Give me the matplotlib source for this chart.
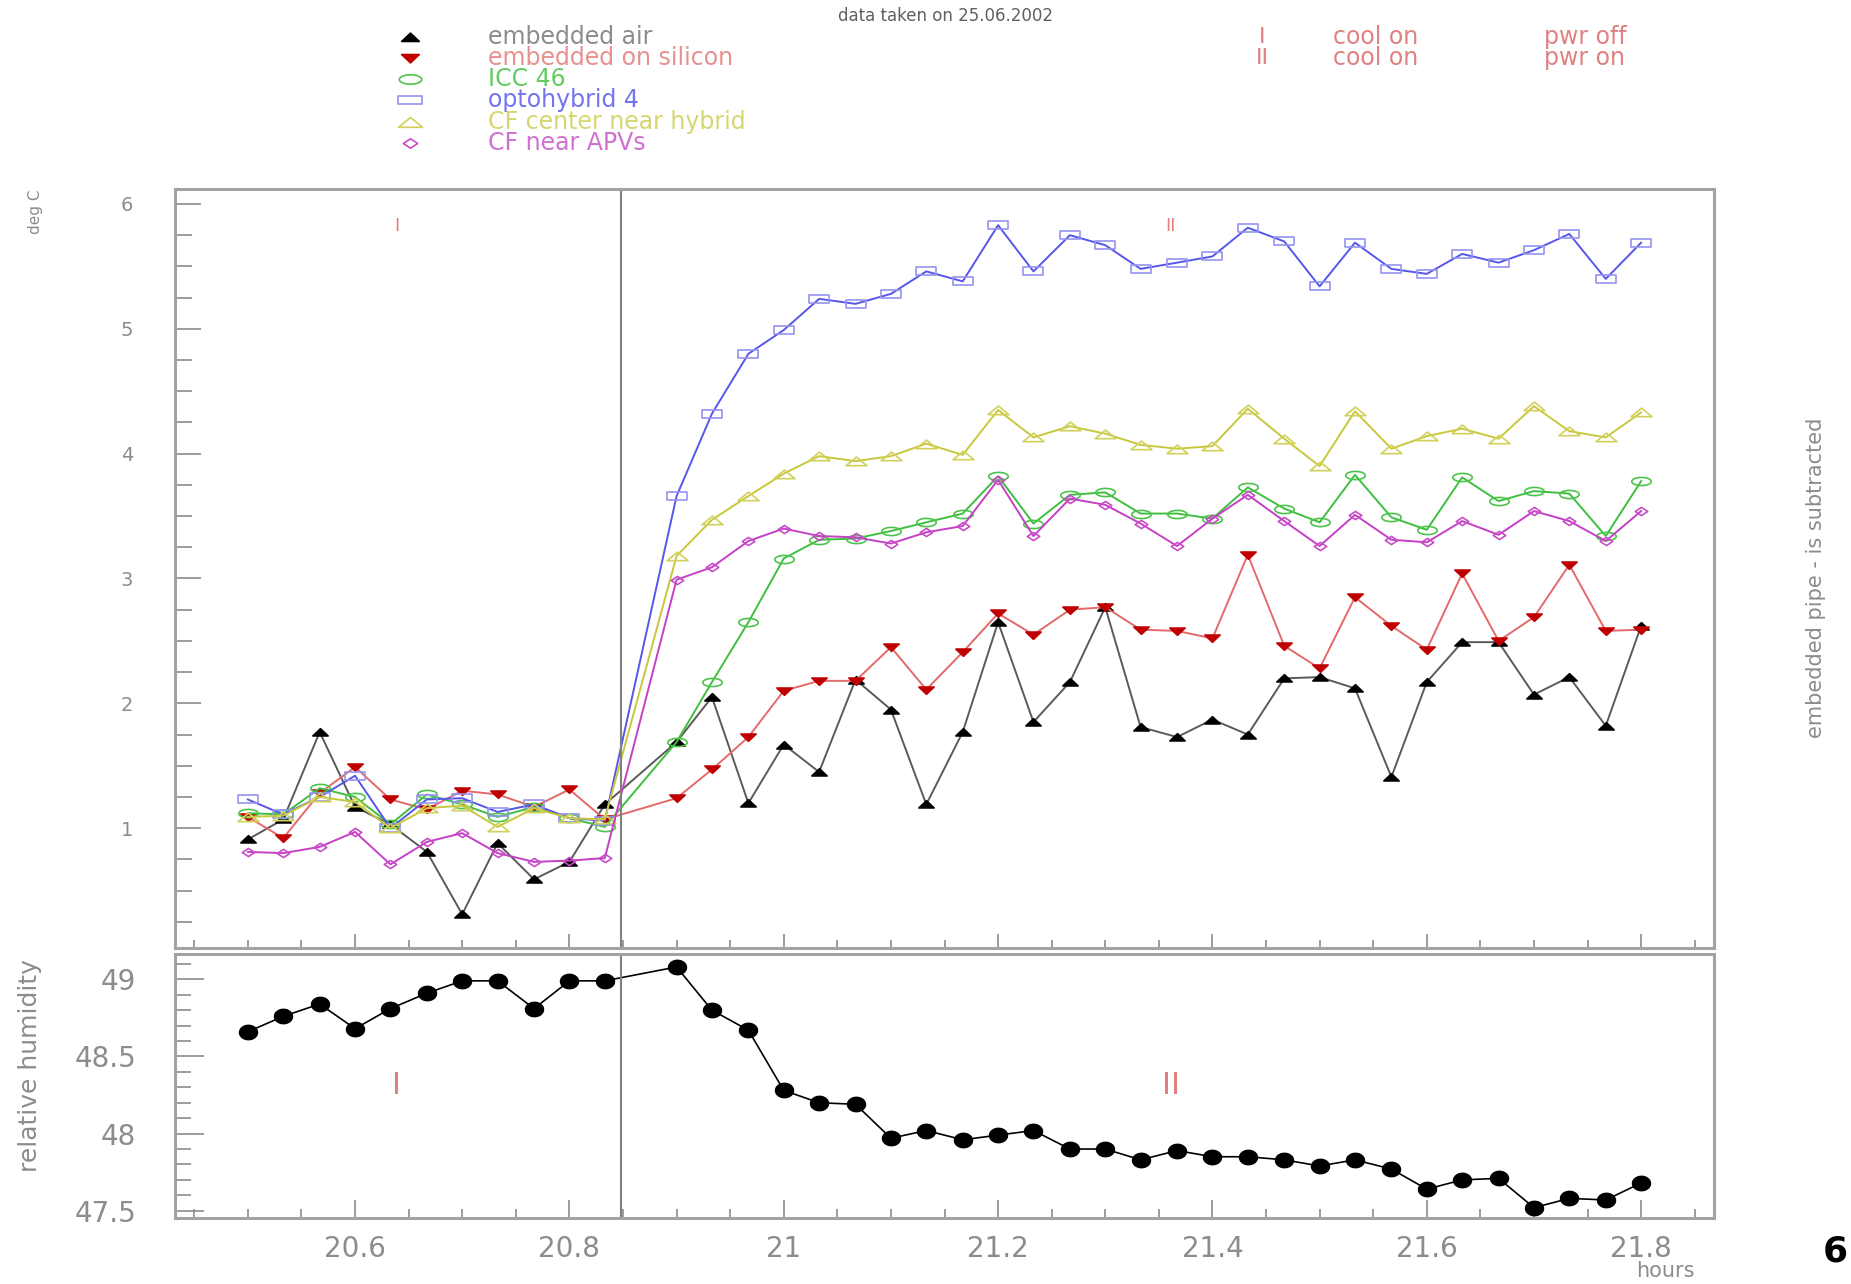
import numpy as np
import matplotlib
matplotlib.use('Agg')
import matplotlib.pyplot as plt
from matplotlib.path import Path
from matplotlib.lines import Line2D
from matplotlib.ticker import MultipleLocator, FuncFormatter

# -----------------------------------------------------------------------------
# data (hours of day, 25.06.2002)
# -----------------------------------------------------------------------------
hours = [20.5, 20.533, 20.567, 20.6, 20.633, 20.667, 20.7, 20.733, 20.767, 20.8,
         20.833, 20.9, 20.933, 20.967, 21.0, 21.033, 21.067, 21.1, 21.133, 21.167,
         21.2, 21.233, 21.267, 21.3, 21.333, 21.367, 21.4, 21.433, 21.467, 21.5,
         21.533, 21.567, 21.6, 21.633, 21.667, 21.7, 21.733, 21.767, 21.8]

embedded_air = [0.91, 1.07, 1.77, 1.17, 1.03, 0.81, 0.31, 0.88, 0.59, 0.73, 1.19,
                1.69, 2.05, 1.20, 1.67, 1.45, 2.19, 1.95, 1.19, 1.77, 2.65, 1.85,
                2.17, 2.77, 1.81, 1.73, 1.87, 1.75, 2.20, 2.21, 2.12, 1.41, 2.17,
                2.49, 2.49, 2.07, 2.21, 1.82, 2.62]
embedded_silicon = [1.09, 0.92, 1.28, 1.49, 1.23, 1.15, 1.30, 1.27, 1.17, 1.31, 1.07,
                    1.24, 1.47, 1.73, 2.10, 2.18, 2.18, 2.45, 2.11, 2.41, 2.72, 2.55,
                    2.75, 2.77, 2.59, 2.58, 2.52, 3.19, 2.46, 2.28, 2.85, 2.62, 2.43,
                    3.04, 2.50, 2.69, 3.11, 2.58, 2.59]
icc46 = [1.12, 1.11, 1.32, 1.25, 1.03, 1.27, 1.19, 1.09, 1.17, 1.08, 1.01,
         1.69, 2.17, 2.65, 3.16, 3.31, 3.32, 3.38, 3.45, 3.52, 3.82, 3.44,
         3.67, 3.69, 3.52, 3.52, 3.48, 3.73, 3.56, 3.45, 3.83, 3.49, 3.39,
         3.81, 3.62, 3.70, 3.68, 3.34, 3.78]
optohybrid4 = [1.23, 1.11, 1.25, 1.42, 1.00, 1.23, 1.24, 1.13, 1.19, 1.08, 1.06,
               3.66, 4.32, 4.80, 4.99, 5.24, 5.20, 5.28, 5.46, 5.38, 5.83, 5.46,
               5.75, 5.67, 5.48, 5.53, 5.58, 5.81, 5.70, 5.34, 5.69, 5.48, 5.44,
               5.60, 5.53, 5.63, 5.76, 5.40, 5.69]
cf_center = [1.09, 1.10, 1.25, 1.21, 1.00, 1.16, 1.18, 1.01, 1.16, 1.08, 1.07,
             3.18, 3.47, 3.66, 3.84, 3.98, 3.94, 3.98, 4.08, 3.99, 4.35, 4.13,
             4.22, 4.16, 4.07, 4.04, 4.06, 4.36, 4.12, 3.90, 4.34, 4.04, 4.14,
             4.20, 4.12, 4.38, 4.18, 4.13, 4.33]
cf_apvs = [0.81, 0.80, 0.85, 0.97, 0.71, 0.89, 0.96, 0.80, 0.73, 0.74, 0.76,
           2.99, 3.09, 3.30, 3.40, 3.34, 3.33, 3.28, 3.37, 3.42, 3.79, 3.34,
           3.64, 3.59, 3.44, 3.26, 3.48, 3.67, 3.46, 3.26, 3.51, 3.31, 3.29,
           3.46, 3.35, 3.54, 3.46, 3.30, 3.54]
humidity = [48.66, 48.76, 48.84, 48.68, 48.81, 48.91, 48.99, 48.99, 48.81, 48.99,
            48.99, 49.08, 48.80, 48.67, 48.28, 48.20, 48.19, 47.97, 48.02, 47.96,
            47.99, 48.02, 47.90, 47.90, 47.83, 47.89, 47.85, 47.85, 47.83, 47.79,
            47.83, 47.77, 47.64, 47.70, 47.71, 47.52, 47.58, 47.57, 47.68]

labels = ['embedded air', 'embedded on silicon', 'ICC 46', 'optohybrid 4',
          'CF center near hybrid', 'CF near APVs']

POWER_ON = 20.848   # time the hybrids were switched on
W, H = 1851, 1284
GRAY = '#8c8c8c'


# flattened marker shapes (the original print is stretched sideways)
def shape(pts):
    pts = list(pts) + [pts[0]]
    codes = [Path.MOVETO] + [Path.LINETO] * (len(pts) - 2) + [Path.CLOSEPOLY]
    return Path(pts, codes)

t = np.linspace(0, 2 * np.pi, 41)[:-1]
TRI_UP = shape([(-1, -0.45), (1, -0.45), (0, 0.5)])
TRI_DN = shape([(-1, 0.45), (1, 0.45), (0, -0.5)])
SQUARE = shape([(-1, -0.35), (1, -0.35), (1, 0.35), (-1, 0.35)])
OVAL = shape(list(zip(np.cos(t), 0.42 * np.sin(t))))
OPEN_TRI = shape([(-1, -0.4), (1, -0.4), (0, 0.42)])
DIAMOND = shape([(0, -0.65), (1, 0), (0, 0.65), (-1, 0)])
DOT = shape(list(zip(np.cos(t), 0.8 * np.sin(t))))

# (values, line colour, marker, size, face, edge, text colour)
series = [
    (embedded_air, '#5a5a5a', TRI_UP, 11, 'black', 'black', '#8c8c8c'),
    (embedded_silicon, '#e36a6a', TRI_DN, 11, '#c00000', '#c00000', '#e89090'),
    (icc46, '#3fbf3f', OVAL, 14, 'none', '#4cc44c', '#62cc62'),
    (optohybrid4, '#5656e8', SQUARE, 15, 'none', '#9494f2', '#7474f0'),
    (cf_center, '#c8c83c', OPEN_TRI, 15, 'none', '#d0d05a', '#d6d670'),
    (cf_apvs, '#c540c5', DIAMOND, 9, 'none', '#c84cc8', '#d070d0'),
]

plt.rcParams['font.family'] = 'DejaVu Sans'
fig = plt.figure(figsize=(W / 100, H / 100), dpi=100)


def fx(x):
    return x / W


def fy(y):
    return 1 - y / H


def style_frame(a):
    for s in a.spines.values():
        s.set_color('#a3a3a3')
        s.set_linewidth(2.2)


fmt = FuncFormatter(lambda v, p: f'{v:g}')

# ---------------------------------------------------------------- temperatures
ax = fig.add_axes([fx(175), fy(948), fx(1539), 759 / H])
for vals, lc, mk, ms, mfc, mec, _ in series:
    ax.plot(hours, vals, color=lc, lw=1.4, marker=mk, ms=ms,
            mfc=mfc, mec=mec, mew=1.2)
ax.axvline(POWER_ON, color='#808080', lw=1.5)
ax.set_xlim(20.432, 21.868)
ax.set_ylim(0.04, 6.12)
ax.xaxis.set_major_locator(MultipleLocator(0.2))
ax.xaxis.set_minor_locator(MultipleLocator(0.05))
ax.yaxis.set_major_locator(MultipleLocator(1))
ax.yaxis.set_minor_locator(MultipleLocator(0.25))
ax.yaxis.set_major_formatter(fmt)
ax.tick_params(axis='both', which='both', direction='in', colors=GRAY, width=1.2)
ax.tick_params(axis='x', which='major', length=10, labelbottom=False)
ax.tick_params(axis='x', which='minor', length=6)
ax.tick_params(axis='y', which='major', length=19, pad=30, labelsize=14)
ax.tick_params(axis='y', which='minor', length=12)
style_frame(ax)
ax.text(20.639, 5.82, 'I', color='#e08080', fontsize=13, ha='center', va='center')
ax.text(21.361, 5.82, 'II', color='#e08080', fontsize=13, ha='center', va='center')

# ------------------------------------------------------------------- humidity
bx = fig.add_axes([fx(175), fy(1218), fx(1539), 264 / H])
bx.plot(hours, humidity, color='black', lw=1.2, marker=DOT, ms=13,
        mfc='black', mec='black')
bx.axvline(POWER_ON, color='#808080', lw=1.5)
bx.set_xlim(20.432, 21.868)
bx.set_ylim(47.453, 49.164)
bx.xaxis.set_major_locator(MultipleLocator(0.2))
bx.xaxis.set_minor_locator(MultipleLocator(0.05))
bx.yaxis.set_major_locator(MultipleLocator(0.5))
bx.yaxis.set_minor_locator(MultipleLocator(0.1))
bx.xaxis.set_major_formatter(fmt)
bx.yaxis.set_major_formatter(fmt)
bx.tick_params(axis='both', which='both', direction='in', colors=GRAY,
               width=1.2, labelsize=20)
bx.tick_params(axis='x', which='major', length=13, pad=12)
bx.tick_params(axis='x', which='minor', length=6.5)
bx.tick_params(axis='y', which='major', length=21, pad=28)
bx.tick_params(axis='y', which='minor', length=11.5)
style_frame(bx)
bx.text(20.639, 48.31, 'I', color='#e08080', fontsize=22, ha='center', va='center')
bx.text(21.361, 48.31, 'II', color='#e08080', fontsize=22, ha='center', va='center')

# ---------------------------------------------------------- legend and labels
fig.text(fx(945), fy(16), 'data taken on 25.06.2002', fontsize=12,
         color='#606060', ha='center', va='center')
rows = [37, 58, 79, 100, 122, 143]
for (vals, lc, mk, ms, mfc, mec, tc), lab, ry in zip(series, labels, rows):
    fig.add_artist(Line2D([fx(410)], [fy(ry)], transform=fig.transFigure,
                          ls='none', marker=mk, ms=ms * 1.15, mfc=mfc, mec=mec, mew=1.2))
    fig.text(fx(488), fy(ry), lab, fontsize=17, color=tc, ha='left', va='center')

for ry, tag, pwr in [(37, 'I', 'pwr off'), (58, 'II', 'pwr on')]:
    fig.text(fx(1262), fy(ry), tag, fontsize=16, color='#e08080', ha='center', va='center')
    fig.text(fx(1333), fy(ry), 'cool on', fontsize=17, color='#e08080', va='center')
    fig.text(fx(1544), fy(ry), pwr, fontsize=17, color='#e08080', va='center')

fig.text(fx(35), fy(212), 'deg C', rotation=90, fontsize=11, color=GRAY,
         ha='center', va='center')
fig.text(fx(30), fy(1066), 'relative humidity', rotation=90, fontsize=18,
         color=GRAY, ha='center', va='center')
fig.text(fx(1816), fy(578), 'embedded pipe - is subtracted', rotation=90,
         fontsize=15, color=GRAY, ha='center', va='center')
# these two sit right at the page edge in the scan; kept just inside here
fig.text(fx(1665), fy(1281), 'hours', fontsize=15, color=GRAY, ha='center', va='bottom')
fig.text(fx(1848), fy(1252), '6', fontsize=26, fontweight='bold', color='black',
         ha='right', va='center')

fig.savefig('out.png', dpi=100)
